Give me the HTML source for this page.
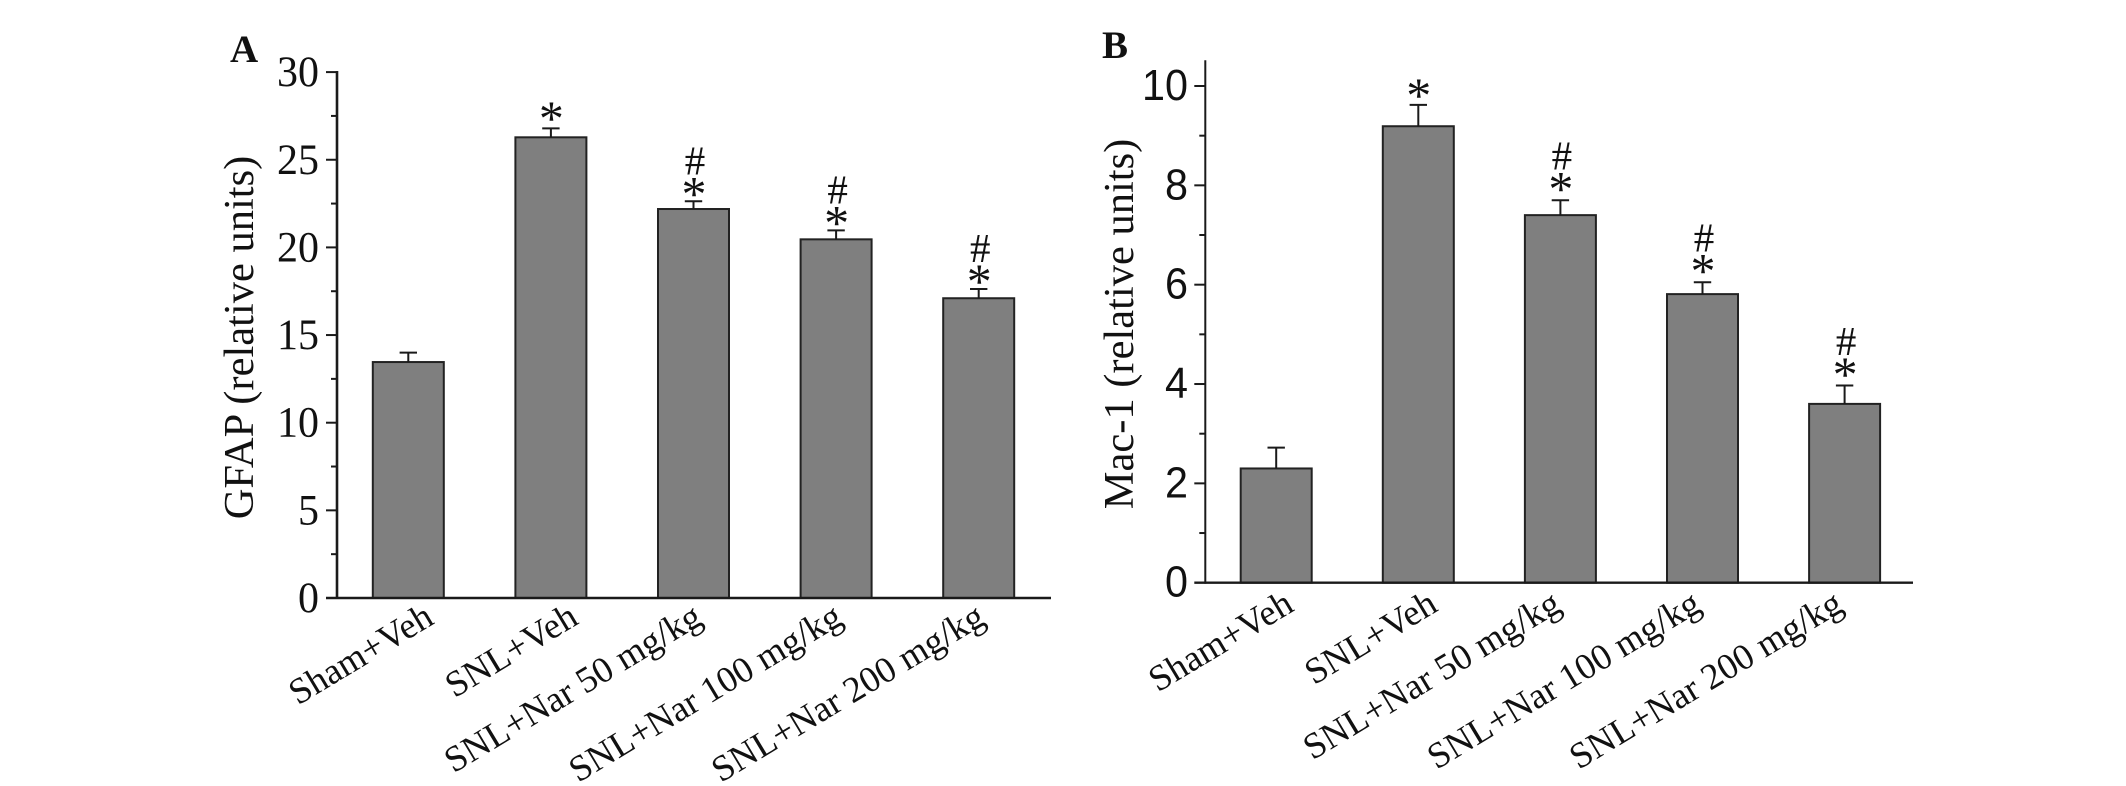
<!DOCTYPE html>
<html lang="en">
<head>
<meta charset="utf-8">
<title>GFAP and Mac-1 relative units</title>
<style>
html,body{margin:0;padding:0;background:#fff;width:2126px;height:786px;overflow:hidden}
svg{display:block}
text{font-family:"Liberation Serif",serif;fill:#111}
.sans{font-family:"Liberation Sans",sans-serif}
</style>
</head>
<body>
<svg id="figure" width="2126" height="786" viewBox="0 0 2126 786" xmlns="http://www.w3.org/2000/svg">
<rect width="2126" height="786" fill="#fff"/>
<g id="panel-a"></g>
<g id="panel-b"></g>
</svg>
<script>
const categories = ["Sham+Veh", "SNL+Veh", "SNL+Nar 50 mg/kg", "SNL+Nar 100 mg/kg", "SNL+Nar 200 mg/kg"];
const significance = ["", "*", "*#", "*#", "*#"];
const gfapValues = [13.46, 26.28, 22.19, 20.46, 17.1];
const gfapErrors = [0.54, 0.51, 0.44, 0.51, 0.53];
const gfapMajorTicks = [0, 5, 10, 15, 20, 25, 30];
const gfapMinorTicks = [2.5, 7.5, 12.5, 17.5, 22.5, 27.5];
const mac1Values = [2.3, 9.19, 7.4, 5.81, 3.6];
const mac1Errors = [0.42, 0.43, 0.3, 0.24, 0.37];
const mac1MajorTicks = [0, 2, 4, 6, 8, 10];
const mac1MinorTicks = [1, 3, 5, 7, 9];

const NS = "http://www.w3.org/2000/svg";
function make(parent, tag, props, txt) {
  const el = document.createElementNS(NS, tag);
  for (const k in props) el.setAttribute(k, props[k]);
  if (txt !== undefined) el.textContent = txt;
  parent.appendChild(el);
  return el;
}

function drawPanel(cfg) {
  const root = document.getElementById(cfg.id);
  const yOf = v => cfg.y0 - v * cfg.yUnit;
  const xOf = i => cfg.x0 + i * cfg.pitch;
  const ink = "#1a1a1a";

  const letter = make(root, "text", {x: cfg.letterX, y: cfg.letterY, "font-size": 39, "font-weight": "bold"}, cfg.letter);
  
  

  const title = make(root, "text", {transform: "translate(" + cfg.titleX + " " + cfg.titleY + ") rotate(-90)", "text-anchor": "middle", "font-size": 42.5}, cfg.title);
  
  

  cfg.values.forEach((v, i) => {
    const cx = xOf(i), top = yOf(v), errTop = yOf(v + cfg.errors[i]);
    const bar = make(root, "rect", {x: cx - cfg.barW / 2, y: top, width: cfg.barW, height: cfg.y0 - top, fill: "#7f7f7f", stroke: "#222", "stroke-width": 2});
    
    

    const stem = make(root, "line", {x1: cx, x2: cx, y1: top, y2: errTop, stroke: ink, "stroke-width": 2});
    
    

    const cap = make(root, "line", {x1: cx - 8.7, x2: cx + 8.7, y1: errTop, y2: errTop, stroke: ink, "stroke-width": 2});
    
    

    const marks = significance[i];
    if (marks.indexOf("*") >= 0) {
      const starY = errTop - (marks.length > 1 ? cfg.starGap : cfg.starGapSolo);
      const star = make(root, "text", {x: cx + 0.5, y: starY + 23, "text-anchor": "middle", "font-size": 50}, "*");
      
      
      if (marks.indexOf("#") >= 0) {
        const hash = make(root, "text", {x: cx + 1.5, y: starY - 25 + 12, "text-anchor": "middle", "font-size": 41}, "#");
        
        
      }
    }

    const label = make(root, "text", {"text-anchor": "end", "font-size": 36.5}, categories[i]);
    
    
    const L = label.getComputedTextLength();
    const ex = cx + cfg.labelA - 0.126 * L;
    label.setAttribute("transform", "translate(" + ex + " " + cfg.labelY + ") rotate(-31)");
  });

  const yAxis = make(root, "line", {x1: cfg.axisX, x2: cfg.axisX, y1: cfg.axisTop, y2: cfg.y0 + 1, stroke: ink, "stroke-width": cfg.axisW});
  
  

  const xAxis = make(root, "line", {x1: cfg.axisX - 11, x2: cfg.axisEnd, y1: cfg.y0, y2: cfg.y0, stroke: ink, "stroke-width": 2.4});
  
  

  cfg.major.forEach(t => {
    if (t !== 0) {
      const tick = make(root, "line", {x1: cfg.axisX - 11, x2: cfg.axisX, y1: yOf(t), y2: yOf(t), stroke: ink, "stroke-width": 2});
      
      
    }
    const s = String(t);
    const lab = make(root, "text", {x: cfg.tickLabelX, y: yOf(t) + 14, "text-anchor": "end", "font-size": cfg.tickSize, "class": cfg.tickClass, textLength: s.length * cfg.digitW, lengthAdjust: "spacingAndGlyphs"}, s);
    
    
  });
  cfg.minor.forEach(t => {
    const tick = make(root, "line", {x1: cfg.axisX - 6, x2: cfg.axisX, y1: yOf(t), y2: yOf(t), stroke: ink, "stroke-width": 2});
    
    
  });
}

drawPanel({
  id: "panel-a", letter: "A", letterX: 230, letterY: 62,
  title: "GFAP (relative units)", titleX: 253, titleY: 337.5,
  values: gfapValues, errors: gfapErrors, major: gfapMajorTicks, minor: gfapMinorTicks,
  y0: 598, yUnit: 17.53, x0: 408.3, pitch: 142.6, barW: 71,
  axisX: 337, axisTop: 71, axisEnd: 1051, axisW: 2.6,
  tickLabelX: 319, tickSize: 43, digitW: 21, tickClass: "",
  starGap: 14, starGapSolo: 16.6, labelA: 47.5, labelY: 623
});
drawPanel({
  id: "panel-b", letter: "B", letterX: 1102, letterY: 58,
  title: "Mac-1 (relative units)", titleX: 1133, titleY: 324,
  values: mac1Values, errors: mac1Errors, major: mac1MajorTicks, minor: mac1MinorTicks,
  y0: 582.7, yUnit: 49.67, x0: 1276.2, pitch: 142.1, barW: 71,
  axisX: 1205.3, axisTop: 60.3, axisEnd: 1913, axisW: 2,
  tickLabelX: 1188, tickSize: 44, digitW: 23, tickClass: "sans",
  starGap: 17.5, starGapSolo: 15.7, labelA: 39.5, labelY: 610
});
</script>
</body>
</html>
